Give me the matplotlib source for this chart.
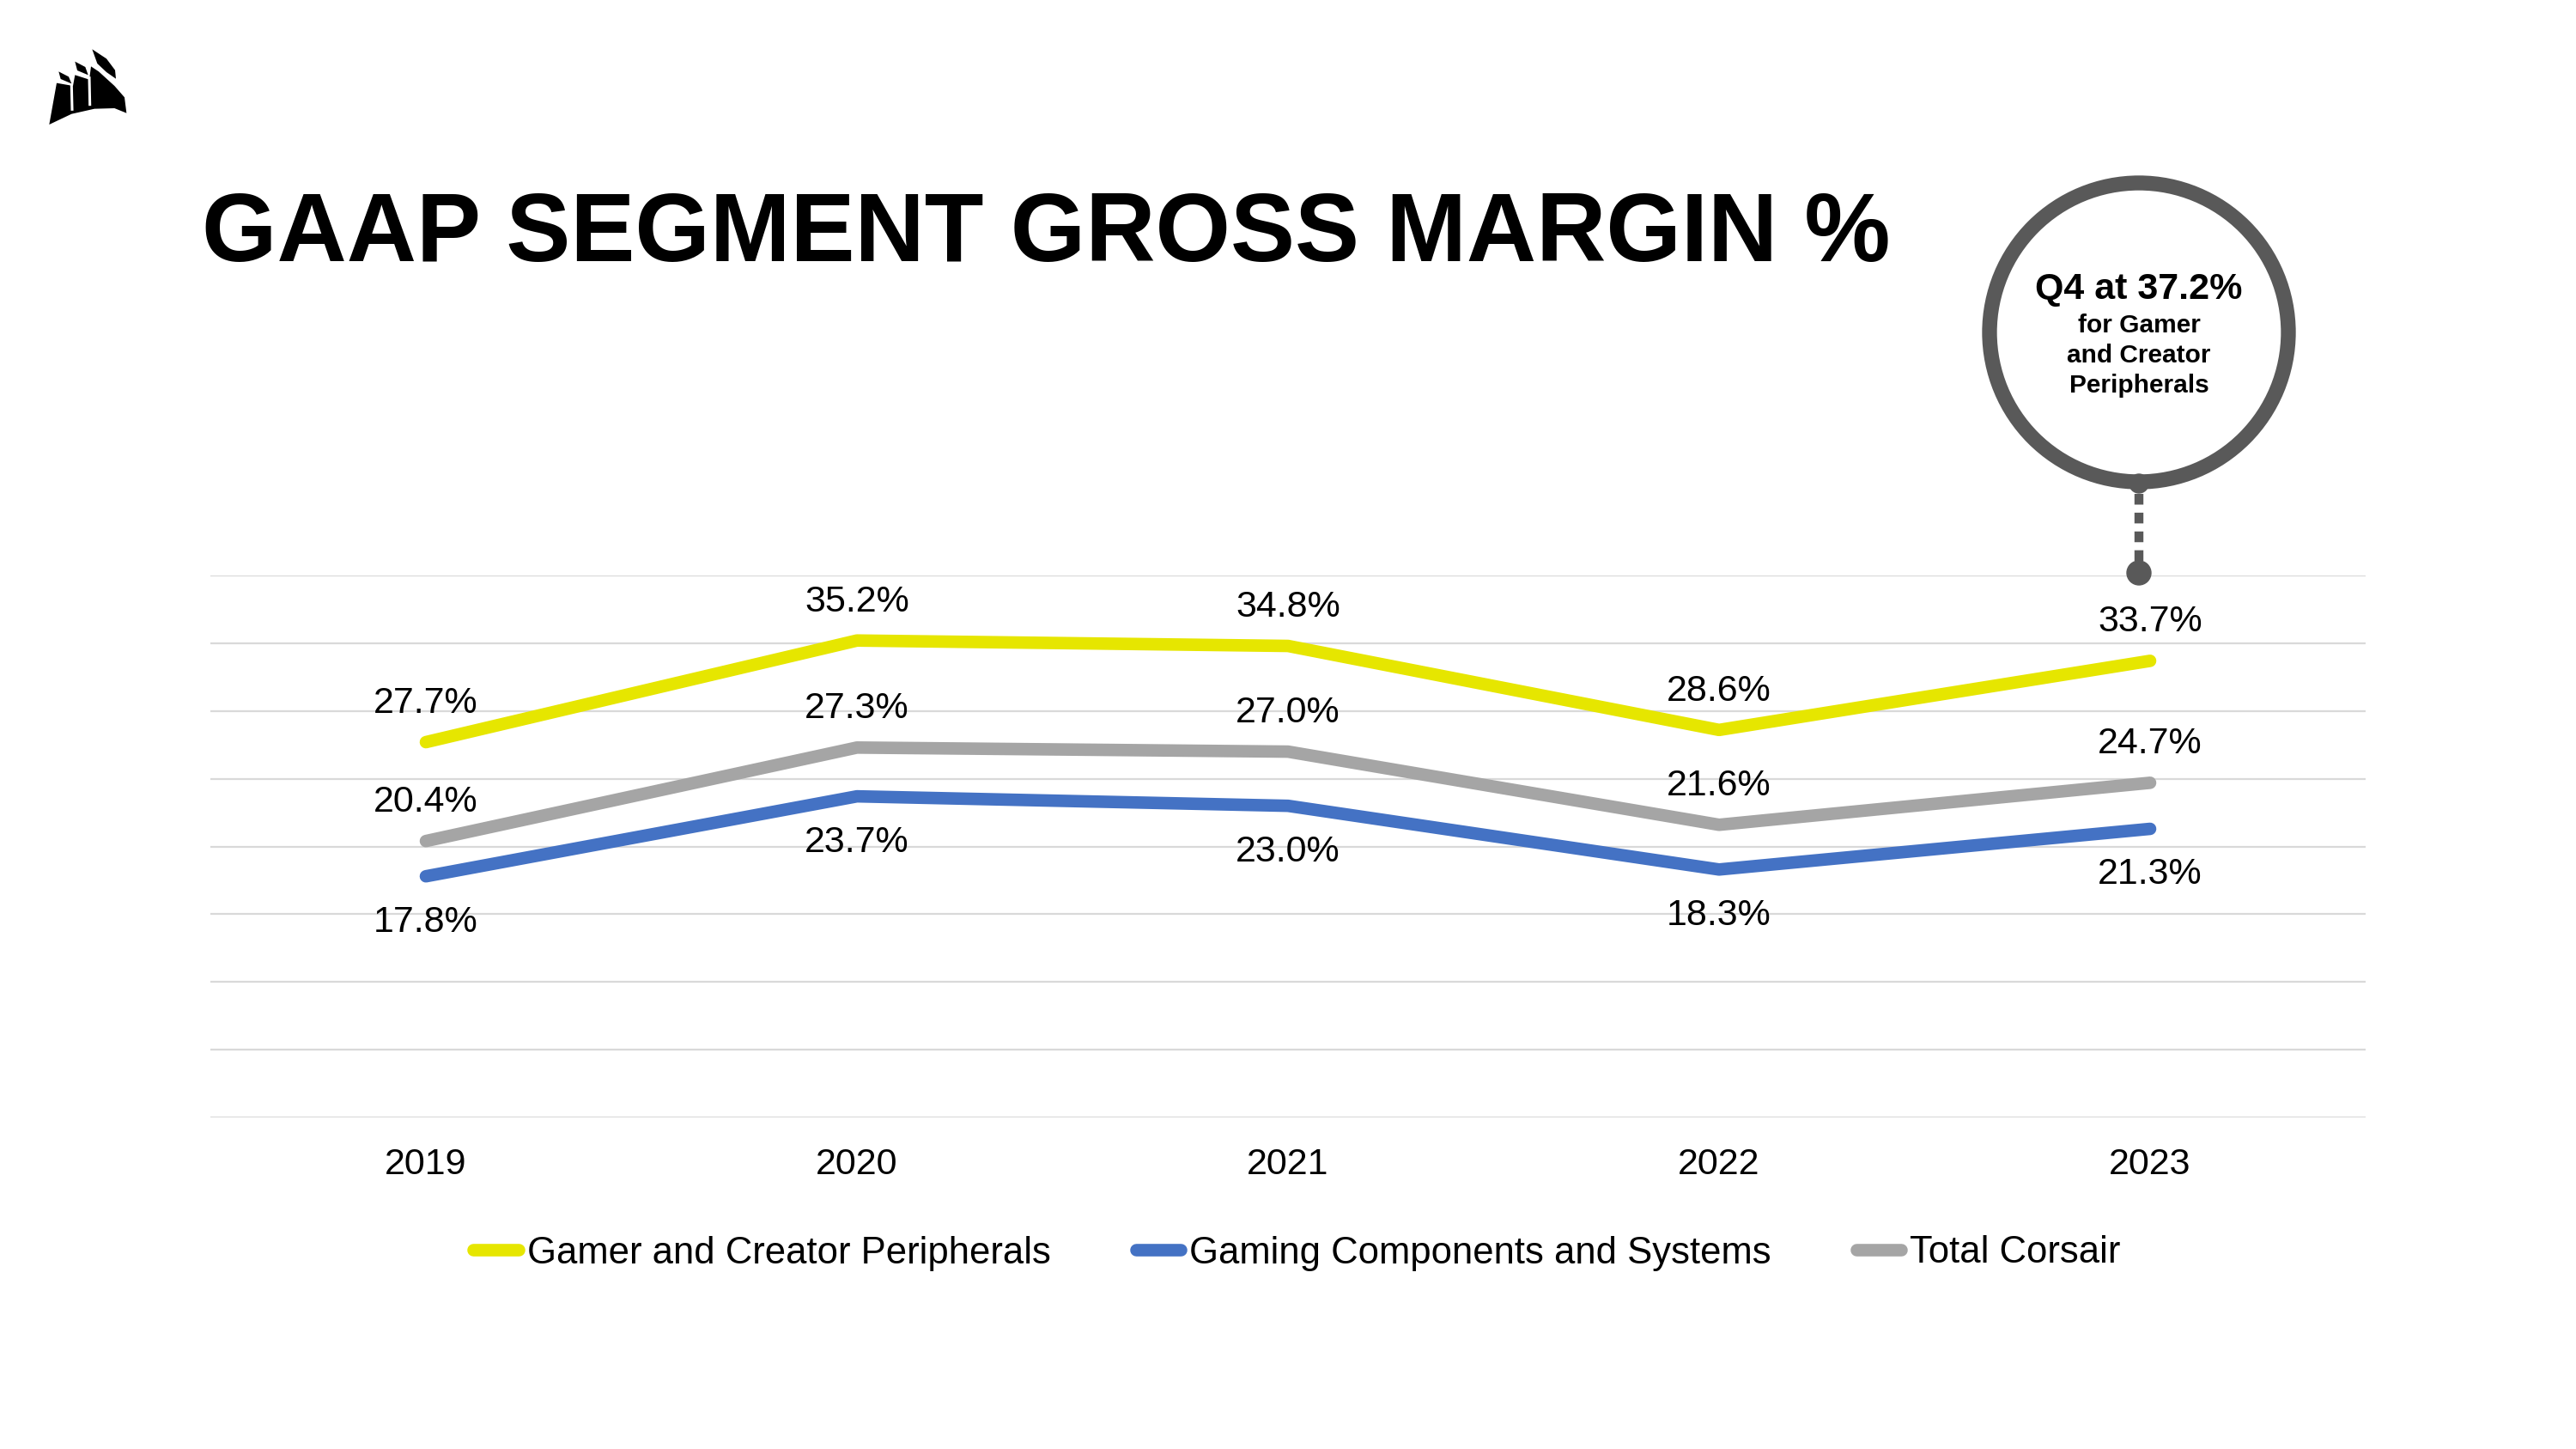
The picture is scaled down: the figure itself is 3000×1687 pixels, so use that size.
import matplotlib
matplotlib.use("Agg")
import matplotlib.pyplot as plt
from matplotlib.patches import Polygon, Circle
from matplotlib.lines import Line2D

plt.rcParams['font.family'] = ['Liberation Sans', 'DejaVu Sans']

# data
years = ['2019', '2020', '2021', '2022', '2023']
gamer = [27.7, 35.2, 34.8, 28.6, 33.7]
components = [17.8, 23.7, 23.0, 18.3, 21.3]
total = [20.4, 27.3, 27.0, 21.6, 24.7]
series_names = ['Gamer and Creator Peripherals', 'Gaming Components and Systems', 'Total Corsair']

YELLOW = '#E6E600'
BLUE = '#4472C4'
GRAY = '#A5A5A5'
DARK = '#595959'

W, H = 3000, 1687
fig = plt.figure(figsize=(W / 100, H / 100), dpi=100)

# main chart
ax = fig.add_axes([245 / W, 1 - 1301 / H, (2755 - 245) / W, (1301 - 670) / H])
x = list(range(len(years)))
lw = 10.5
ax.plot(x, gamer, color=YELLOW, lw=lw, solid_capstyle='round', solid_joinstyle='round', zorder=3)
ax.plot(x, components, color=BLUE, lw=lw, solid_capstyle='round', solid_joinstyle='round', zorder=3)
ax.plot(x, total, color=GRAY, lw=lw, solid_capstyle='round', solid_joinstyle='round', zorder=3)

for i in x:
    ax.annotate(f"{gamer[i]:.1f}%", (i, gamer[i]), xytext=(0, 32.5), textcoords='offset points',
                ha='center', va='center', fontsize=31)
    ax.annotate(f"{total[i]:.1f}%", (i, total[i]), xytext=(0, 32.5), textcoords='offset points',
                ha='center', va='center', fontsize=31)
    ax.annotate(f"{components[i]:.1f}%", (i, components[i]), xytext=(0, -38.5), textcoords='offset points',
                ha='center', va='center', fontsize=31)

ax.set_xlim(-0.5, 4.5)
ax.set_ylim(0, 40)
ax.set_yticks(range(0, 41, 5))
ax.set_yticklabels([])
ax.set_xticks(x)
ax.set_xticklabels(years, fontsize=31)
ax.tick_params(axis='both', length=0)
ax.tick_params(axis='x', pad=25.5)
ax.grid(axis='y', color='#D9D9D9', lw=1.6)
ax.set_axisbelow(True)
for s in ax.spines.values():
    s.set_visible(False)

# legend
handles = [Line2D([], [], color=c, lw=lw, solid_capstyle='round') for c in (YELLOW, BLUE, GRAY)]
fig.legend(handles, series_names, loc='center', bbox_to_anchor=(0.5035, 1 - 1459 / H), ncol=3,
           frameon=False, fontsize=31.4, handlelength=1.2, handletextpad=0.24, columnspacing=2.26)

# title
fig.text(235 / W, 1 - 304 / H, 'GAAP SEGMENT GROSS MARGIN %', fontsize=81, fontweight='bold',
         ha='left', va='baseline')

# overlay in pixel coords for logo and callout
ov = fig.add_axes([0, 0, 1, 1], zorder=5)
ov.set_xlim(0, W)
ov.set_ylim(H, 0)
ov.axis('off')
ov.patch.set_alpha(0)

def z(pts):
    return [(px / 3, py / 3) for px, py in pts]

body = z([(172, 435), (198, 290), (255, 300), (262, 262), (312, 278), (318, 232), (345, 250),
          (400, 300), (435, 340), (442, 395), (400, 378), (330, 380), (250, 398)])
ov.add_patch(Polygon(body, closed=True, color='black', lw=0))
ov.plot([250 / 3, 252 / 3], [300 / 3, 382 / 3], color='white', lw=2.2)
ov.plot([312 / 3, 314 / 3], [272 / 3, 365 / 3], color='white', lw=2.2)
for pen in ([(205, 250), (240, 268), (250, 292), (212, 276)],
            [(262, 215), (298, 234), (308, 262), (270, 246)],
            [(322, 172), (372, 205), (402, 245), (405, 275), (372, 252), (340, 222)]):
    ov.add_patch(Polygon(z(pen), closed=True, color='black', lw=0))

# callout
cx, cy, r = 2491, 387, 174
ov.add_patch(Circle((cx, cy), r, fill=False, ec=DARK, lw=12.5))
ov.add_patch(Circle((cx, cy + r + 2), 11, color=DARK))
ov.plot([cx, cx], [cy + r + 14, 658], color=DARK, lw=7.5, linestyle=(0, (1.2, 0.9)),
        solid_capstyle='butt', dash_capstyle='butt')
ov.add_patch(Circle((cx, 667), 14, color=DARK))
ov.text(cx, 348, 'Q4 at 37.2%', fontsize=31, fontweight='bold', ha='center', va='baseline')
for txt, yy in (('for Gamer', 387), ('and Creator', 422), ('Peripherals', 457)):
    ov.text(cx, yy, txt, fontsize=21.5, fontweight='bold', ha='center', va='baseline')

fig.savefig('out.png', dpi=100, facecolor='white')
